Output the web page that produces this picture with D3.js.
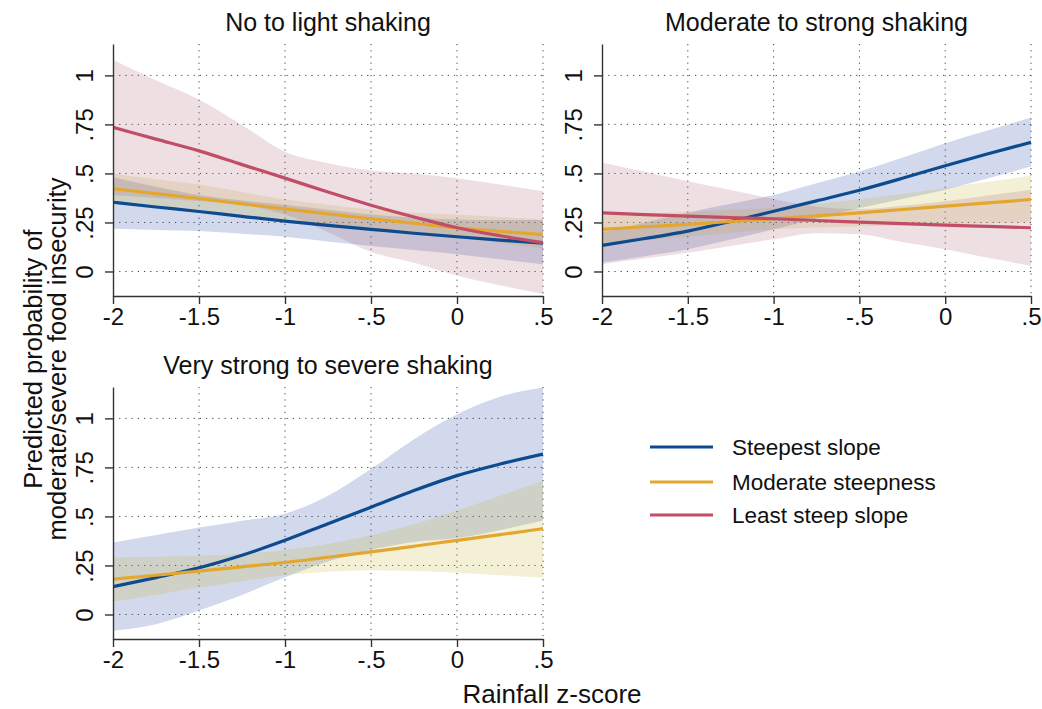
<!DOCTYPE html>
<html>
<head>
<meta charset="utf-8">
<script src="https://cdn.jsdelivr.net/npm/d3@7"></script>
<style>
  body { margin: 0; background: #fff; }
  svg { display: block; font-family: "Liberation Sans", Arial, Helvetica, sans-serif; }
  .grid line { stroke: #444; stroke-width: 1; stroke-dasharray: 1.2,5; }
  .axis path, .axis line { stroke: #333; stroke-width: 1.4; }
  .axis text { font-size: 24px; fill: #111; }
</style>
</head>
<body>
<div class="chart"></div>
<script>
// rainfall z-score grid where margins were evaluated
var xVals = [-2, -1.75, -1.5, -1.25, -1, -0.75, -0.5, -0.25, 0, 0.25, 0.5];

var xTicks = [-2, -1.5, -1, -0.5, 0, 0.5];
var xTickLabels = ["-2", "-1.5", "-1", "-.5", "0", ".5"];
var yTicks = [0, 0.25, 0.5, 0.75, 1];
var yTickLabels = ["0", ".25", ".5", ".75", "1"];

var panelTitles = ["No to light shaking", "Moderate to strong shaking", "Very strong to severe shaking"];
var seriesNames = ["Steepest slope", "Moderate steepness", "Least steep slope"];

// No to light shaking
var lightSteep    = [0.353, 0.329, 0.306, 0.281, 0.257, 0.235, 0.215, 0.195, 0.177, 0.160, 0.144];
var lightSteepLo  = [0.218, 0.212, 0.206, 0.192, 0.177, 0.153, 0.130, 0.109, 0.088, 0.062, 0.037];
var lightSteepHi  = [0.480, 0.432, 0.390, 0.362, 0.340, 0.315, 0.290, 0.275, 0.265, 0.262, 0.262];
var lightMod      = [0.422, 0.397, 0.372, 0.345, 0.319, 0.294, 0.269, 0.246, 0.223, 0.205, 0.188];
var lightModLo    = [0.358, 0.337, 0.316, 0.290, 0.265, 0.240, 0.215, 0.193, 0.172, 0.145, 0.117];
var lightModHi    = [0.500, 0.470, 0.443, 0.405, 0.367, 0.340, 0.316, 0.300, 0.290, 0.278, 0.265];
var lightLeast    = [0.735, 0.675, 0.615, 0.545, 0.476, 0.405, 0.338, 0.278, 0.223, 0.182, 0.147];
var lightLeastLo  = [0.390, 0.375, 0.360, 0.340, 0.290, 0.200, 0.100, 0.045, -0.020, -0.070, -0.115];
var lightLeastHi  = [1.080, 0.975, 0.877, 0.747, 0.610, 0.552, 0.515, 0.500, 0.476, 0.443, 0.409];

// Moderate to strong shaking
var modSteep      = [0.133, 0.168, 0.206, 0.255, 0.307, 0.360, 0.414, 0.475, 0.539, 0.600, 0.659];
var modSteepLo    = [0.046, 0.078, 0.113, 0.163, 0.215, 0.270, 0.324, 0.370, 0.417, 0.475, 0.535];
var modSteepHi    = [0.200, 0.250, 0.300, 0.345, 0.390, 0.450, 0.510, 0.580, 0.654, 0.720, 0.785];
var modMod        = [0.215, 0.228, 0.240, 0.255, 0.269, 0.284, 0.299, 0.316, 0.333, 0.350, 0.367];
var modModLo      = [0.139, 0.158, 0.177, 0.196, 0.215, 0.224, 0.231, 0.236, 0.240, 0.246, 0.252];
var modModHi      = [0.285, 0.295, 0.305, 0.315, 0.324, 0.345, 0.367, 0.395, 0.426, 0.457, 0.488];
var modLeast      = [0.299, 0.290, 0.282, 0.275, 0.269, 0.260, 0.252, 0.244, 0.236, 0.230, 0.223];
var modLeastLo    = [0.037, 0.066, 0.096, 0.130, 0.164, 0.195, 0.190, 0.150, 0.113, 0.070, 0.029];
var modLeastHi    = [0.556, 0.508, 0.460, 0.415, 0.370, 0.330, 0.318, 0.335, 0.358, 0.388, 0.417];

// Very strong to severe shaking (no least-steep estimates)
var sevSteep      = [0.142, 0.188, 0.238, 0.302, 0.378, 0.463, 0.547, 0.632, 0.708, 0.767, 0.818];
var sevSteepLo    = [-0.083, -0.050, 0.020, 0.100, 0.190, 0.270, 0.330, 0.370, 0.390, 0.430, 0.479];
var sevSteepHi    = [0.367, 0.405, 0.443, 0.478, 0.514, 0.606, 0.742, 0.894, 1.020, 1.110, 1.157];
var sevMod        = [0.180, 0.200, 0.221, 0.243, 0.265, 0.292, 0.319, 0.348, 0.378, 0.407, 0.438];
var sevModLo      = [0.066, 0.100, 0.137, 0.170, 0.200, 0.218, 0.226, 0.222, 0.213, 0.200, 0.188];
var sevModHi      = [0.290, 0.294, 0.299, 0.310, 0.328, 0.360, 0.404, 0.460, 0.530, 0.605, 0.682];

var lineColors = ["#0d4a8e", "#e3a72f", "#c24d67"];
var ciColors = ["#1e41a0", "#c3b432", "#aa5f73"];

var svgWidth = 1042, svgHeight = 709;

var svg = d3.select(".chart")
    .append("svg")
    .attr("width", svgWidth)
    .attr("height", svgHeight);

// panel boxes in pixels
var panels = [
    {left: 113, right: 543, top: 44, bottom: 296, title: panelTitles[0],
     series: [[lightSteep, lightSteepLo, lightSteepHi], [lightMod, lightModLo, lightModHi], [lightLeast, lightLeastLo, lightLeastHi]]},
    {left: 602, right: 1031, top: 44, bottom: 296, title: panelTitles[1],
     series: [[modSteep, modSteepLo, modSteepHi], [modMod, modModLo, modModHi], [modLeast, modLeastLo, modLeastHi]]},
    {left: 113, right: 543, top: 387, bottom: 639, title: panelTitles[2],
     series: [[sevSteep, sevSteepLo, sevSteepHi], [sevMod, sevModLo, sevModHi]]}
];

panels.forEach(function(p, pi) {
    var width = p.right - p.left;
    var height = p.bottom - p.top;

    var xScale = d3.scaleLinear().domain([-2, 0.5]).range([0, width]);
    var yScale = d3.scaleLinear().domain([-0.125, 1.16]).range([height, 0]);

    var g = svg.append("g")
        .attr("transform", "translate(" + p.left + "," + p.top + ")");

    g.append("clipPath")
        .attr("id", "clip" + pi)
        .append("rect")
        .attr("width", width)
        .attr("height", height);

    // dotted grid
    var grid = g.append("g").attr("class", "grid");
    grid.selectAll(".gx")
        .data(xTicks.slice(1))
        .enter().append("line")
        .attr("x1", function(d) { return xScale(d); })
        .attr("x2", function(d) { return xScale(d); })
        .attr("y1", 0)
        .attr("y2", height);
    grid.selectAll(".gy")
        .data(yTicks)
        .enter().append("line")
        .attr("x1", 0)
        .attr("x2", width)
        .attr("y1", function(d) { return yScale(d); })
        .attr("y2", function(d) { return yScale(d); });

    var area = d3.area()
        .x(function(d) { return xScale(d.x); })
        .y0(function(d) { return yScale(d.lo); })
        .y1(function(d) { return yScale(d.hi); })
        .curve(d3.curveMonotoneX);

    var line = d3.line()
        .x(function(d) { return xScale(d.x); })
        .y(function(d) { return yScale(d.y); })
        .curve(d3.curveMonotoneX);

    var plot = g.append("g").attr("clip-path", "url(#clip" + pi + ")");

    // confidence bands first, then the estimates
    p.series.forEach(function(s, si) {
        var rows = xVals.map(function(x, i) { return {x: x, y: s[0][i], lo: s[1][i], hi: s[2][i]}; });
        plot.append("path")
            .datum(rows)
            .attr("d", area)
            .attr("fill", ciColors[si])
            .attr("fill-opacity", 0.2);
    });
    p.series.forEach(function(s, si) {
        var rows = xVals.map(function(x, i) { return {x: x, y: s[0][i]}; });
        plot.append("path")
            .datum(rows)
            .attr("d", line)
            .attr("fill", "none")
            .attr("stroke", lineColors[si])
            .attr("stroke-width", 3.2);
    });

    // axes
    var bottomAxis = d3.axisBottom(xScale)
        .tickValues(xTicks)
        .tickFormat(function(d, i) { return xTickLabels[i]; })
        .tickSize(8)
        .tickSizeOuter(0);
    var leftAxis = d3.axisLeft(yScale)
        .tickValues(yTicks)
        .tickFormat(function(d, i) { return yTickLabels[i]; })
        .tickSize(8)
        .tickSizeOuter(0);

    var gx = g.append("g")
        .attr("class", "axis")
        .attr("transform", "translate(0," + height + ")")
        .call(bottomAxis);
    gx.selectAll("text").attr("y", 29).attr("dy", 0);

    var gy = g.append("g")
        .attr("class", "axis")
        .call(leftAxis);
    gy.selectAll("text")
        .attr("x", 0)
        .attr("y", -20)
        .attr("dy", 0)
        .attr("text-anchor", "middle")
        .attr("transform", "rotate(-90)");

    // panel title
    g.append("text")
        .attr("x", width / 2)
        .attr("y", -13)
        .attr("text-anchor", "middle")
        .style("font-size", "25px")
        .style("fill", "#111")
        .text(p.title);
});

// shared axis titles
svg.append("text")
    .attr("transform", "translate(42,359) rotate(-90)")
    .attr("text-anchor", "middle")
    .style("font-size", "25.5px")
    .style("fill", "#111")
    .text("Predicted probability of");
svg.append("text")
    .attr("transform", "translate(66,359) rotate(-90)")
    .attr("text-anchor", "middle")
    .style("font-size", "25.5px")
    .style("fill", "#111")
    .text("moderate/severe food insecurity");

svg.append("text")
    .attr("x", 552)
    .attr("y", 703)
    .attr("text-anchor", "middle")
    .style("font-size", "26px")
    .style("fill", "#111")
    .text("Rainfall z-score");

// legend
var legendY = [447, 482, 515];
var legend = svg.append("g");
seriesNames.forEach(function(name, i) {
    legend.append("line")
        .attr("x1", 650)
        .attr("x2", 713)
        .attr("y1", legendY[i])
        .attr("y2", legendY[i])
        .attr("stroke", lineColors[i])
        .attr("stroke-width", 3.2);
    legend.append("text")
        .attr("x", 732)
        .attr("y", legendY[i])
        .attr("dy", "0.35em")
        .style("font-size", "22.5px")
        .style("fill", "#111")
        .text(name);
});
</script>
</body>
</html>
